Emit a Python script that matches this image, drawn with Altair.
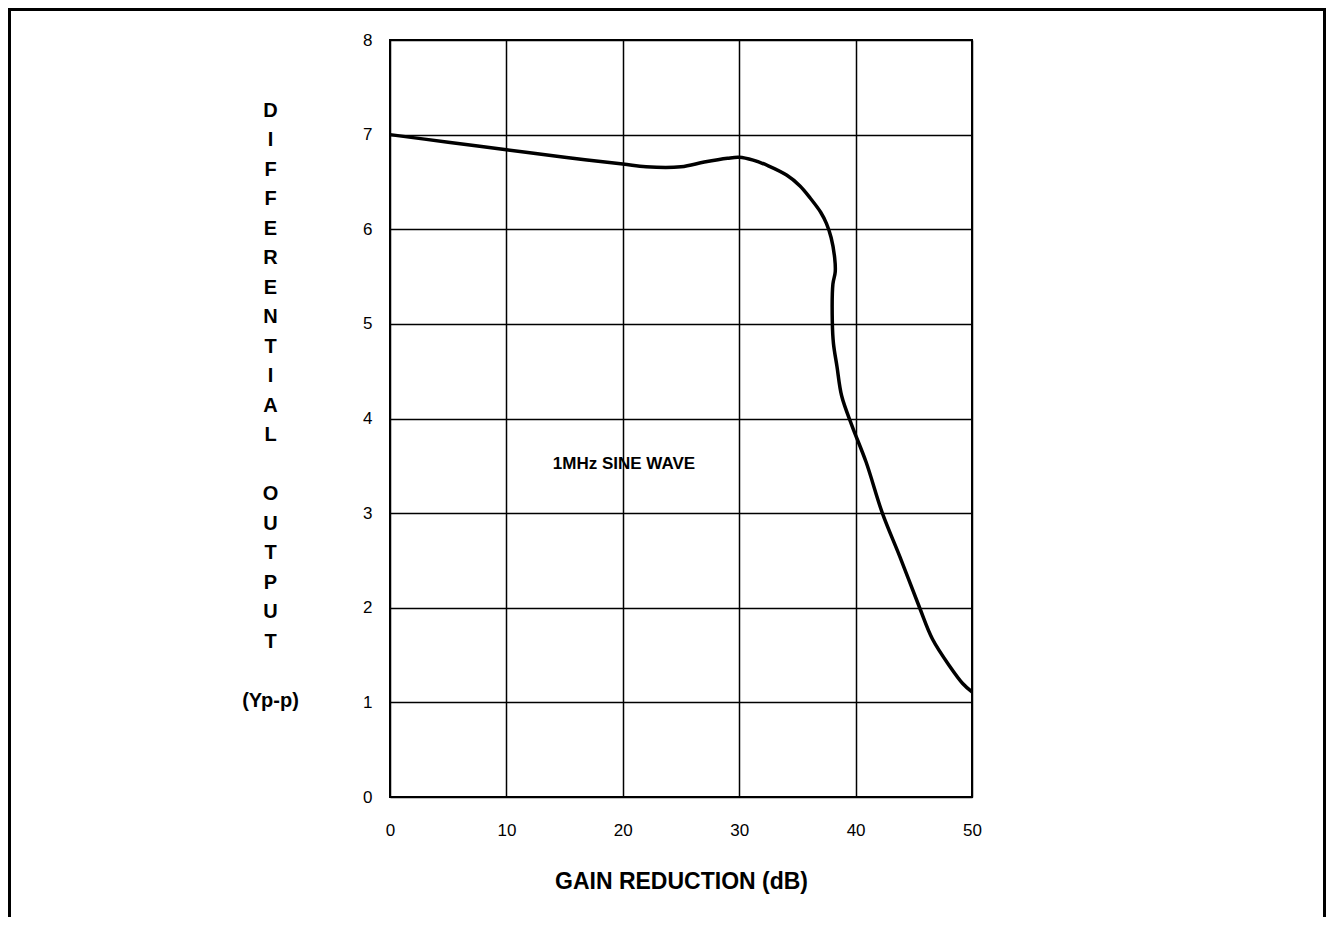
import altair as alt
import pandas as pd

# ---- data ----
gain_db = [0, 5, 10, 15, 20, 22, 25, 27, 29, 30, 31.2, 32.5, 34.1, 35.2, 36.1, 37.0, 37.5,
           37.9, 38.2, 38.25, 38.05, 38.0, 38.1, 38.4, 38.8, 39.7, 40.9, 42.3, 43.8, 45.5,
           46.6, 48.1, 49.2, 50]
output_vpp = [7.0, 6.92, 6.84, 6.76, 6.69, 6.66, 6.66, 6.71, 6.75, 6.76, 6.73, 6.67, 6.57,
              6.46, 6.33, 6.18, 6.06, 5.91, 5.70, 5.55, 5.42, 5.02, 4.79, 4.55, 4.24, 3.92,
              3.54, 3.0, 2.54, 2.0, 1.67, 1.38, 1.2, 1.11]
x_ticks = [0, 10, 20, 30, 40, 50]
y_ticks = [0, 1, 2, 3, 4, 5, 6, 7, 8]
note_text = ["1MHz SINE WAVE"]
note_x = [20.1]
note_y = [3.52]
x_title = "GAIN REDUCTION (dB)"
BLANK = "\u2800"
y_title_lines = list("DIFFERENTIAL") + [BLANK] + list("OUTPUT") + [BLANK, "(Yp-p)"]

FONT = "Liberation Sans, Arial, sans-serif"

df = pd.DataFrame({"gain": gain_db, "vpp": output_vpp, "order": list(range(len(gain_db)))})
note_df = pd.DataFrame({"gain": note_x, "vpp": note_y, "label": note_text})
frame_df = pd.DataFrame({"k": [0]})

W, H = 582, 757
PAD_L, PAD_T, PAD_R, PAD_B = 382, 32, 354, 120

x_scale = alt.Scale(domain=[0, 50], nice=False, zero=False)
y_scale = alt.Scale(domain=[0, 8], nice=False, zero=False)

x_axis = alt.Axis(
    values=x_ticks, title=x_title, grid=True, ticks=False, domain=False, labelFlush=False,
    labelPadding=25, labelFontSize=17, labelFont=FONT, labelColor="black",
    titleFontSize=23, titleFontWeight="bold", titleFont=FONT, titleColor="black",
    titlePadding=32, gridColor="black", gridWidth=1.5, gridOpacity=1,
)
y_axis = alt.Axis(
    values=y_ticks, title=y_title_lines, grid=True, ticks=False, domain=False, labelFlush=False,
    labelPadding=18, labelFontSize=17, labelFont=FONT, labelColor="black",
    titleFontSize=20, titleFontWeight="bold", titleFont=FONT, titleColor="black",
    titleAngle=0, titleAlign="center", titleBaseline="top", titleX=-120, titleY=60,
    titleLineHeight=29.5, gridColor="black", gridWidth=1.5, gridOpacity=1,
)

line = alt.Chart(df).mark_line(
    color="black", strokeWidth=3.5, strokeJoin="round", interpolate="catmull-rom"
).encode(
    x=alt.X("gain:Q", scale=x_scale, axis=x_axis),
    y=alt.Y("vpp:Q", scale=y_scale, axis=y_axis),
    order="order:Q",
)

note = alt.Chart(note_df).mark_text(
    font=FONT, fontSize=17, fontWeight="bold", color="black", align="center", baseline="middle"
).encode(
    x=alt.X("gain:Q", scale=x_scale, axis=x_axis),
    y=alt.Y("vpp:Q", scale=y_scale, axis=y_axis),
    text="label:N",
)

frame = alt.Chart(frame_df).mark_rect(filled=False, stroke="black", strokeWidth=3).encode(
    x=alt.value(-PAD_L + 1.5),
    x2=alt.value(W + PAD_R - 1.5),
    y=alt.value(-PAD_T + 1.5),
    y2=alt.value(H + PAD_B + 50),
)

chart = alt.layer(frame, line, note).properties(
    width=W, height=H,
    autosize=alt.AutoSizeParams(type="none"),
    padding={"left": PAD_L, "top": PAD_T, "right": PAD_R, "bottom": PAD_B},
).configure_view(stroke="black", strokeWidth=2)

chart.save("out.html", embed_options={"renderer": "svg", "actions": False})
